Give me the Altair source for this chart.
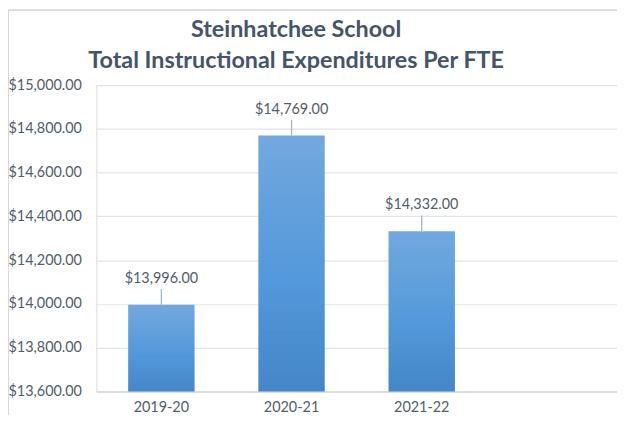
import altair as alt
import pandas as pd

years = ["2019-20", "2020-21", "2021-22"]
values = [13996.00, 14769.00, 14332.00]
x_domain = ["2019-20", "2020-21", "2021-22", " "]
y_ticks = [13600, 13800, 14000, 14200, 14400, 14600, 14800, 15000]
y_min, y_max = 13600, 15000

df = pd.DataFrame({"year": years, "value": values})

W, H = 525, 309
FONT = "Lato"
TXT = "#525d6b"
xs = alt.Scale(domain=x_domain, paddingInner=0.49, paddingOuter=0.245)

x_enc = alt.X("year:N", scale=xs,
              axis=alt.Axis(title=None, labelAngle=0, ticks=False, domainColor="#d5dae1", domainWidth=1.5,
                            labelFont=FONT, labelFontSize=14.5, labelColor=TXT, labelPadding=9))
y_enc = alt.Y("value:Q", scale=alt.Scale(domain=[y_min, y_max], zero=False, nice=False),
              axis=alt.Axis(title=None, values=y_ticks, format="$,.2f", ticks=False, domain=False,
                            gridColor="#e1e5ea", gridWidth=1.2, labelFont=FONT, labelFontSize=14.5,
                            labelColor=TXT, labelPadding=15))

border = alt.Chart(df).mark_rect(fill=None, stroke="#d9d9d9", strokeWidth=1).encode(
    x=alt.value(-88.5), x2=alt.value(W + 10), y=alt.value(-75.5), y2=alt.value(H + 40)
)

bars = alt.Chart(df).mark_bar(
    color=alt.Gradient(gradient="linear",
                       stops=[alt.GradientStop(color="#72a8de", offset=0),
                              alt.GradientStop(color="#5499db", offset=0.55),
                              alt.GradientStop(color="#4486c8", offset=1)],
                       x1=0, x2=0, y1=0, y2=1)
).encode(x=x_enc, y=y_enc, y2=alt.datum(y_min))

leaders = alt.Chart(df).mark_rule(color="#a9b4c2", strokeWidth=1.3, y2Offset=-16).encode(
    x=alt.X("year:N", scale=xs), y=alt.Y("value:Q"), y2=alt.Y2("value")
)

labels = alt.Chart(df).mark_text(font=FONT, fontSize=14.5, color=TXT, dy=-26, baseline="middle").encode(
    x=alt.X("year:N", scale=xs), y=alt.Y("value:Q"), text=alt.Text("value:Q", format="$,.2f")
)

chart = alt.layer(border, bars, leaders, labels).properties(
    width=W, height=H,
    autosize=alt.AutoSizeParams(type="none"),
    padding={"left": 89, "top": 76, "right": 0, "bottom": 22},
    title=alt.TitleParams(
        text=["Steinhatchee School", "Total Instructional Expenditures Per FTE"],
        font=FONT, fontSize=23.5, fontWeight="bold", color="#44546a",
        anchor="middle", frame="group", dx=-61, offset=-63, lineHeight=31,
    ),
).configure_view(stroke=None).configure(background="white")

chart.save("out.html", embed_options={"renderer": "svg", "actions": False})
